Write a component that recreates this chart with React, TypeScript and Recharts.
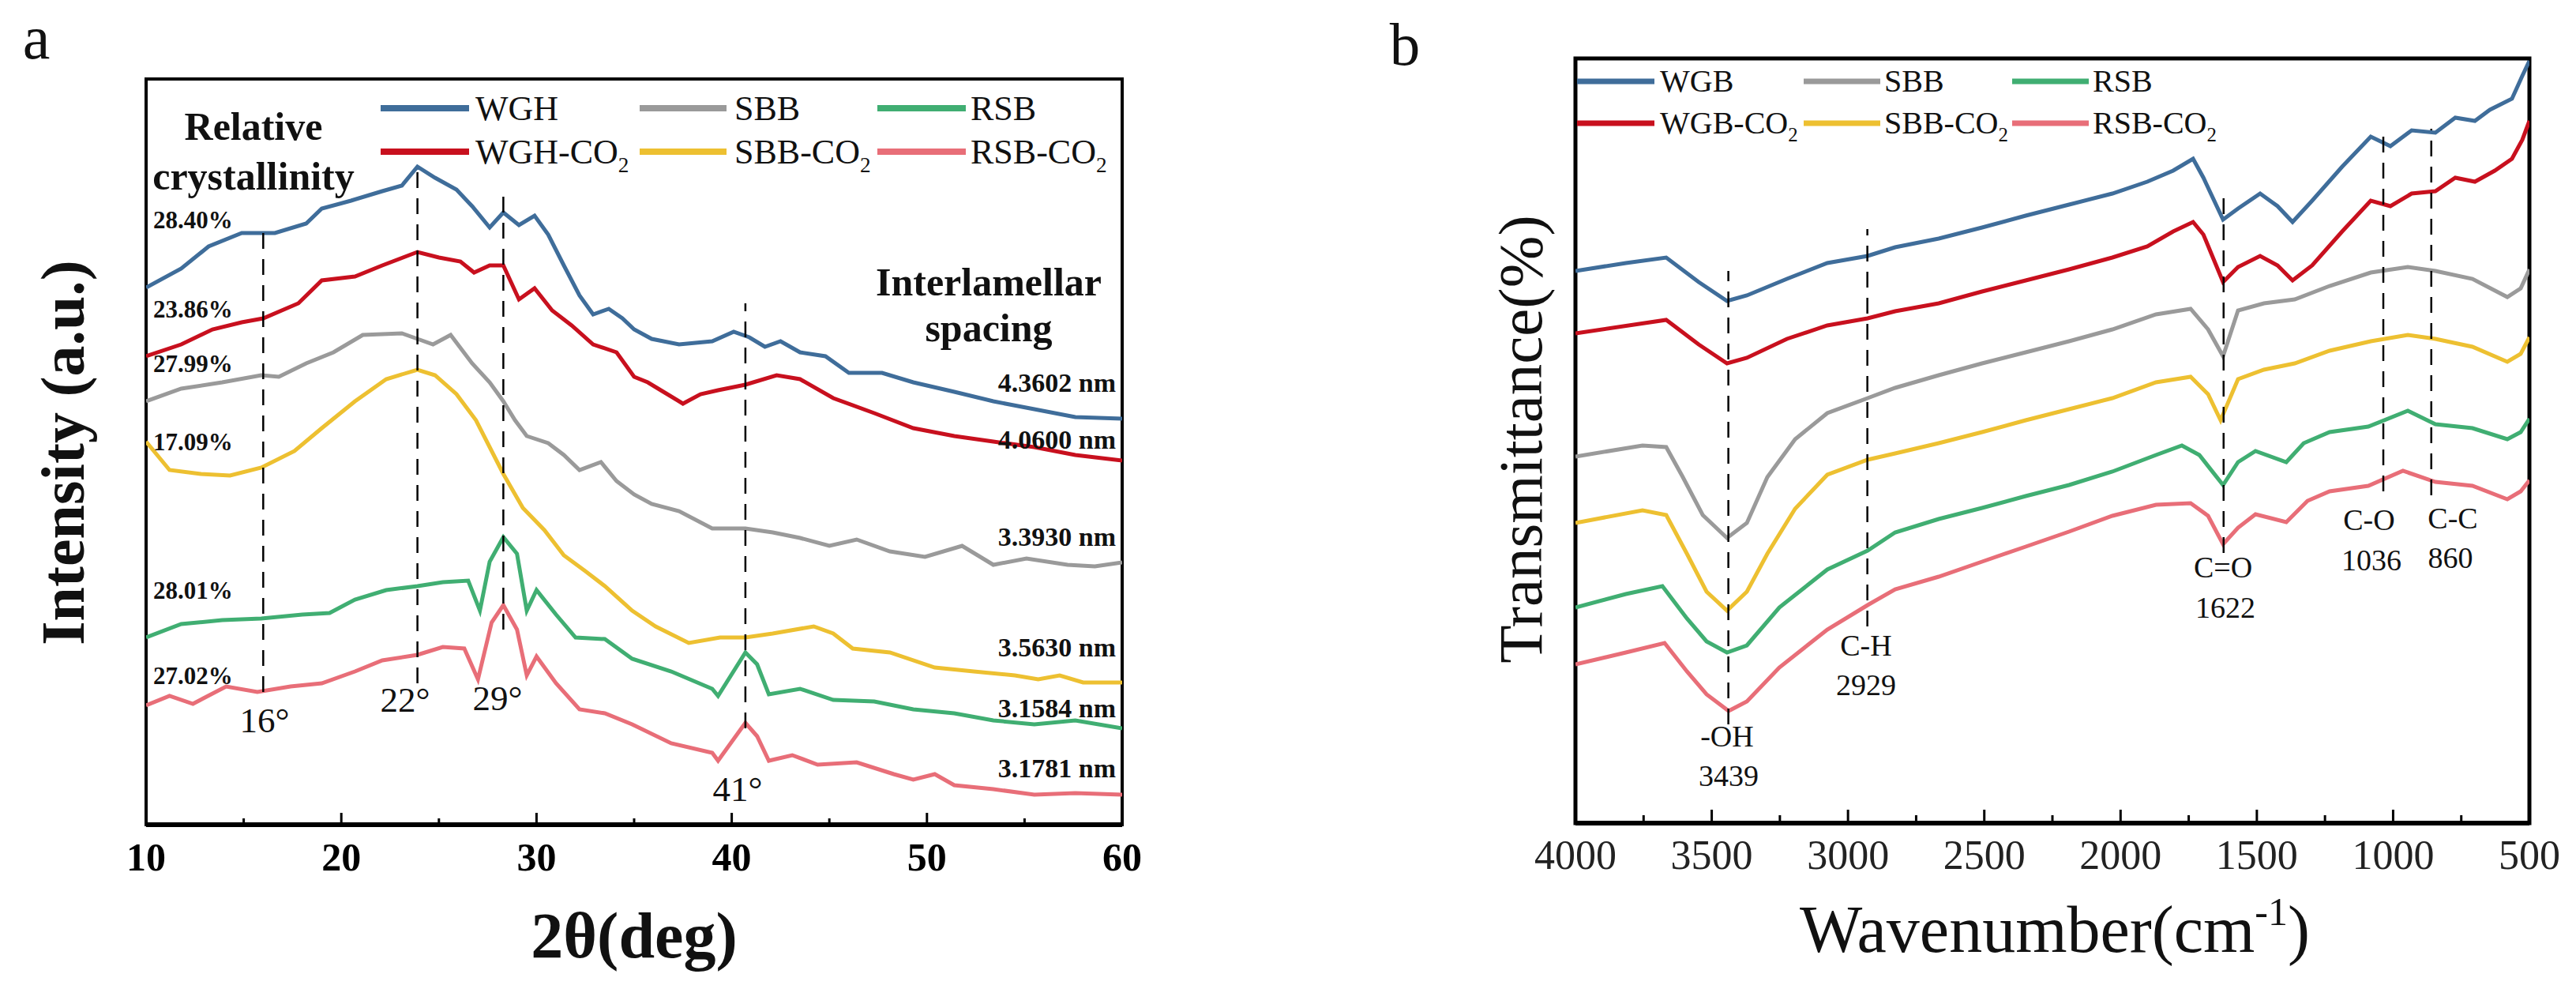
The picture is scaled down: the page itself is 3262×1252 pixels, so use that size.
import React from 'react';
import { LineChart, Line, XAxis, YAxis, ReferenceLine, ReferenceArea } from 'recharts';

const SERIF = '"Liberation Serif", "Times New Roman", serif';

// ---------- Panel a : XRD ----------
const XRD_TICKS = [10, 15, 20, 25, 30, 35, 40, 45, 50, 55, 60];

const WGH = [[10,680],[11.8,704],[13.2,732],[14.9,749],[16.6,749],[18.2,761],[19,780],[20.5,790],[22.1,802],[23.1,809],[23.9,833],[24.8,819],[25.9,804],[26.7,783],[27.6,756],[28.3,775],[29.1,759],[29.9,771],[30.6,747],[31.4,708],[32.2,670],[32.9,646],[33.7,653],[34.4,641],[35,627],[35.9,615],[37.3,608],[39,612],[40.1,624],[40.9,617],[41.7,605],[42.5,612],[43.5,598],[44.8,593],[46,572],[47.7,572],[49.3,560],[51.4,548],[53.4,536],[55.5,526],[57.6,516],[60,514]];
const WGH_CO2 = [[10,593],[11.8,608],[13.4,627],[14.9,636],[16,641],[17.8,660],[19,689],[20.7,694],[22.1,708],[23.9,725],[25,718],[26.1,713],[26.8,699],[27.6,708],[28.3,708],[29.1,665],[29.9,679],[30.8,651],[31.8,632],[32.9,608],[34.1,598],[35,567],[35.7,560],[36.5,548],[37.5,533],[38.4,545],[39.3,550],[40.7,557],[42.3,569],[43.5,564],[45.2,540],[47.3,521],[49.3,502],[51.4,492],[53.4,485],[55.5,478],[57.6,468],[60,461]];
const SBB = [[10,536],[11.8,552],[13.9,560],[15.9,569],[16.8,567],[18.2,584],[19.6,598],[21.1,620],[23.1,622],[23.9,615],[24.7,608],[25.6,620],[26.7,584],[27.6,560],[28.3,536],[28.9,512],[29.5,492],[30.6,483],[31.4,468],[32.2,449],[33.3,459],[34.1,435],[35,418],[35.9,406],[37.3,397],[39,375],[40.7,375],[42.1,370],[43.5,363],[45,353],[46.4,361],[48.1,346],[49.9,339],[51.8,353],[53.4,329],[55.1,337],[57.2,329],[58.6,327],[60,332]];
const SBB_CO2 = [[10,485],[11.2,449],[12.8,444],[14.3,442],[15.9,452],[17.6,473],[19,502],[20.7,536],[22.3,564],[23.9,576],[24.8,569],[25.9,545],[26.9,512],[27.6,478],[28.3,444],[29.3,401],[30.4,373],[31.4,341],[32.5,321],[33.5,302],[34.9,271],[36.1,251],[37.8,230],[39.4,237],[40.7,237],[42.1,242],[44.2,251],[45.2,242],[46.2,223],[48.1,218],[50.4,199],[52.4,194],[54.5,189],[55.7,184],[56.8,189],[58,180],[60,180]];
const RSB = [[10,237],[11.8,254],[13.9,259],[15.9,261],[18,266],[19.4,268],[20.7,285],[22.3,297],[23.9,302],[25.2,307],[26.5,309],[27.1,271],[27.6,333],[28.3,364],[29,343],[29.5,271],[30,297],[31,266],[32,237],[33.5,235],[34.9,210],[36.9,194],[39,172],[39.3,163],[40.7,218],[41.3,203],[41.9,165],[43.5,172],[45.2,158],[47.3,156],[49.3,146],[51.4,141],[53.4,132],[55.5,127],[57.6,132],[60,122]];
const RSB_CO2 = [[10,151],[11.2,163],[12.4,153],[14.1,175],[15.7,168],[17.4,175],[19,179],[20.7,194],[22.1,208],[23.9,215],[25.2,225],[26.3,223],[27,184],[27.7,256],[28.3,278],[29,247],[29.5,189],[30,213],[31,179],[32.2,146],[33.5,141],[34.9,127],[36.9,103],[39,91],[39.3,81],[40.7,129],[41.3,112],[41.9,81],[43.1,88],[44.4,76],[46.4,79],[48.3,64],[49.3,57],[50.4,64],[51.4,50],[53.4,45],[55.5,38],[57.6,40],[60,38]];

const XRD_NAMES = ['WGH', 'SBB', 'RSB', 'WGH-CO', 'SBB-CO', 'RSB-CO'];
const XRD_PEAKS = [16, 23.9, 28.3, 40.7];
const XRD_PEAK_SPAN = [[168, 759], [179, 838], [247, 802], [122, 660]];
const XRD_PEAK_LABELS = ['16°', '22°', '29°', '41°'];
const CRYSTALLINITY = ['28.40%', '23.86%', '27.99%', '17.09%', '28.01%', '27.02%'];
const SPACING = ['4.3602 nm', '4.0600 nm', '3.3930 nm', '3.5630 nm', '3.1584 nm', '3.1781 nm'];

// ---------- Panel b : FTIR ----------
const FTIR_TICKS = [4000, 3750, 3500, 3250, 3000, 2750, 2500, 2250, 2000, 1750, 1500, 1250, 1000, 750, 500];

const WGB = [[4000,699],[3815,709],[3667,716],[3548,685],[3444,661],[3371,668],[3224,689],[3076,709],[2928,718],[2827,729],[2667,740],[2508,754],[2348,769],[2189,783],[2030,797],[1902,812],[1807,826],[1734,841],[1696,817],[1624,764],[1569,778],[1488,797],[1424,781],[1369,761],[1297,788],[1187,831],[1082,869],[1010,857],[932,877],[845,874],[772,893],[700,889],[645,903],[564,917],[526,946],[500,965]];
const WGB_CO2 = [[4000,620],[3667,637],[3548,606],[3444,582],[3371,589],[3224,613],[3076,630],[2928,639],[2827,648],[2667,658],[2508,673],[2348,687],[2189,701],[2030,716],[1902,730],[1807,749],[1734,761],[1696,745],[1624,685],[1569,704],[1488,718],[1424,706],[1369,687],[1297,706],[1187,749],[1082,788],[1010,781],[932,797],[845,800],[772,817],[700,812],[627,826],[564,841],[526,865],[500,889]];
const SBB_B = [[4000,464],[3754,478],[3667,476],[3606,438],[3533,390],[3444,361],[3371,380],[3296,438],[3194,486],[3076,519],[2928,538],[2827,551],[2667,567],[2508,582],[2348,596],[2189,610],[2030,625],[1870,644],[1743,651],[1679,625],[1624,591],[1569,649],[1474,658],[1361,663],[1233,680],[1082,697],[946,704],[845,699],[709,689],[581,666],[532,677],[500,701]];
const SBB_B_CO2 = [[4000,380],[3754,396],[3667,390],[3591,341],[3519,293],[3444,269],[3371,293],[3296,341],[3194,398],[3076,441],[2928,460],[2827,468],[2667,481],[2508,495],[2348,510],[2189,524],[2030,538],[1870,558],[1743,565],[1679,543],[1633,510],[1569,562],[1474,574],[1361,582],[1233,598],[1082,610],[946,618],[845,613],[709,603],[581,584],[532,594],[500,615]];
const RSB_B = [[4000,273],[3815,290],[3681,300],[3591,259],[3519,230],[3444,216],[3371,225],[3252,273],[3076,321],[2928,345],[2827,368],[2667,385],[2508,399],[2348,414],[2189,428],[2030,445],[1870,466],[1775,478],[1711,466],[1624,428],[1569,457],[1505,471],[1392,457],[1328,481],[1233,495],[1091,502],[946,522],[845,505],[709,500],[581,486],[532,495],[500,512]];
const RSB_B_CO2 = [[4000,201],[3815,216],[3673,228],[3591,192],[3519,163],[3438,142],[3371,154],[3252,197],[3076,245],[2928,276],[2827,296],[2667,312],[2508,331],[2348,350],[2189,369],[2030,389],[1870,403],[1743,405],[1679,389],[1624,353],[1569,374],[1505,391],[1392,381],[1314,408],[1233,420],[1091,427],[964,446],[845,432],[709,427],[581,410],[532,420],[500,434]];

const FTIR_NAMES = ['WGB', 'SBB', 'RSB', 'WGB-CO', 'SBB-CO', 'RSB-CO'];
const FTIR_PEAKS = [3439, 2929, 1622, 1036, 860];
const FTIR_PEAK_SPAN = [[125, 699], [249, 752], [342, 800], [420, 869], [415, 879]];
const FTIR_GROUPS = ['-OH', 'C-H', 'C=O', 'C-O', 'C-C'];

// ---------- styling ----------
const COLORS = ['#3F6D9A', '#9A9A9A', '#40AE72', '#C8101E', '#EDC031', '#E86E78'];
const XRD_DATA = [WGH, SBB, RSB, WGH_CO2, SBB_CO2, RSB_CO2];
const FTIR_DATA = [WGB, SBB_B, RSB_B, WGB_CO2, SBB_B_CO2, RSB_B_CO2];
const DRAW_ORDER = [5, 2, 4, 1, 3, 0];

const toPts = (arr: number[][]) => arr.map(([x, y]) => ({ x, y }));

const tickA = (props: any) => {
  const { x, y, payload } = props;
  const v = payload.value;
  const major = v % 10 === 0;
  return (
    <g>
      <line x1={x} x2={x} y1={y} y2={y - (major ? 15 : 8)} stroke="#000" strokeWidth={3} />
      {major && (
        <text x={x} y={y + 58} textAnchor="middle" fontFamily={SERIF} fontWeight="bold" fontSize={50} fill="#000">
          {v}
        </text>
      )}
    </g>
  );
};

const tickB = (props: any) => {
  const { x, y, payload } = props;
  const v = payload.value;
  const major = v % 500 === 0;
  return (
    <g>
      <line x1={x} x2={x} y1={y} y2={y - (major ? 17 : 10)} stroke="#000" strokeWidth={3} />
      {major && (
        <text x={x} y={y + 58} textAnchor="middle" fontFamily={SERIF} fontSize={52} fill="#222">
          {v}
        </text>
      )}
    </g>
  );
};

const T = ({ x, y, size, bold, anchor, children, fill }: any) => (
  <text x={x} y={y} fontSize={size} fontFamily={SERIF} fontWeight={bold ? 'bold' : 'normal'} textAnchor={anchor || 'middle'} fill={fill || '#111'}>
    {children}
  </text>
);

const LegendItem = ({ x1, x2, tx, y, color, label, co2, size, lw }: any) => (
  <g>
    <line x1={x1} x2={x2} y1={y} y2={y} stroke={color} strokeWidth={lw} />
    <text x={tx} y={y + size * 0.33} fontSize={size} fontFamily={SERIF} fill="#111">
      {label}
      {co2 && <tspan fontSize={size * 0.62} dy={size * 0.25}>2</tspan>}
    </text>
  </g>
);

export default function App() {
  const legA = [
    { x1: 482, x2: 594, tx: 602 },
    { x1: 810, x2: 920, tx: 930 },
    { x1: 1111, x2: 1223, tx: 1229 },
  ];
  const legB = [
    { x1: 1997, x2: 2095, tx: 2102 },
    { x1: 2284, x2: 2381, tx: 2386 },
    { x1: 2548, x2: 2645, tx: 2650 },
  ];
  const pctY = [289, 402, 471, 570, 758, 866];
  const spY = [496, 568, 691, 831, 908, 984];
  const angPos = [[335, 927], [513, 901], [630, 899], [934, 1014]];
  const grpPos = [[2187, 945], [2363, 830], [2815, 731], [3000, 671], [3106, 669]];
  const numPos = [[2189, 995], [2363, 880], [2818, 782], [3003, 722], [3103, 719]];

  return (
    <div style={{ position: 'absolute', left: 0, top: 0, width: 3262, height: 1252, background: '#fff' }}>
      <div style={{ position: 'absolute', left: 0, top: 0 }}>
        <LineChart width={1631} height={1252} margin={{ top: 100, right: 210, bottom: 207, left: 185 }}>
          <XAxis type="number" dataKey="x" domain={[10, 60]} ticks={XRD_TICKS} interval={0} allowDataOverflow
            height={1} tickSize={0} tickMargin={0} tickLine={false} axisLine={{ stroke: '#000', strokeWidth: 6 }} tick={tickA} />
          <YAxis type="number" domain={[0, 944]} hide allowDataOverflow />
          <ReferenceArea x1={10} x2={60} y1={0} y2={944} fill="none" stroke="#000" strokeWidth={4} ifOverflow="visible" />
          {DRAW_ORDER.map((i) => (
            <Line key={XRD_NAMES[i]} data={toPts(XRD_DATA[i])} dataKey="y" stroke={COLORS[i]} strokeWidth={5}
              dot={false} isAnimationActive={false} type="linear" />
          ))}
          {XRD_PEAKS.map((p, i) => (
            <ReferenceLine key={'pa' + i} segment={[{ x: p, y: XRD_PEAK_SPAN[i][0] }, { x: p, y: XRD_PEAK_SPAN[i][1] }]}
              stroke="#000" strokeWidth={2.5} strokeDasharray="20 13" ifOverflow="visible" />
          ))}
        </LineChart>
      </div>
      <div style={{ position: 'absolute', left: 1631, top: 0 }}>
        <LineChart width={1631} height={1252} margin={{ top: 74, right: 59, bottom: 209, left: 364 }}>
          <XAxis type="number" dataKey="x" domain={[500, 4000]} reversed ticks={FTIR_TICKS} interval={0} allowDataOverflow
            height={1} tickSize={0} tickMargin={0} tickLine={false} axisLine={{ stroke: '#000', strokeWidth: 6 }} tick={tickB} />
          <YAxis type="number" domain={[0, 968]} hide allowDataOverflow />
          <ReferenceArea x1={500} x2={4000} y1={0} y2={968} fill="none" stroke="#000" strokeWidth={5} ifOverflow="visible" />
          {DRAW_ORDER.map((i) => (
            <Line key={FTIR_NAMES[i]} data={toPts(FTIR_DATA[i])} dataKey="y" stroke={COLORS[i]} strokeWidth={5}
              dot={false} isAnimationActive={false} type="linear" />
          ))}
          {FTIR_PEAKS.map((p, i) => (
            <ReferenceLine key={'pb' + i} segment={[{ x: p, y: FTIR_PEAK_SPAN[i][0] }, { x: p, y: FTIR_PEAK_SPAN[i][1] }]}
              stroke="#000" strokeWidth={2.5} strokeDasharray="20 13" ifOverflow="visible" />
          ))}
        </LineChart>
      </div>
      <svg width={3262} height={1252} style={{ position: 'absolute', left: 0, top: 0, pointerEvents: 'none' }}>
        {/* panel letters */}
        <T x={46} y={74} size={78}>a</T>
        <T x={1779} y={82} size={77}>b</T>

        {/* panel a titles */}
        <text transform="translate(79,573) rotate(-90)" textAnchor="middle" dominantBaseline="central"
          fontFamily={SERIF} fontWeight="bold" fontSize={78} fill="#111">Intensity (a.u.)</text>
        <T x={803} y={1212} size={82} bold>2θ(deg)</T>

        {/* panel a legend */}
        {XRD_NAMES.map((n, i) => (
          <LegendItem key={n} {...legA[i % 3]} y={i < 3 ? 137 : 192} color={COLORS[i]} label={n} co2={i >= 3} size={44} lw={8} />
        ))}

        {/* panel a annotations */}
        <T x={321} y={177} size={50} bold>Relative</T>
        <T x={321} y={240} size={50} bold>crystallinity</T>
        {CRYSTALLINITY.map((c, i) => (
          <T key={c + i} x={194} y={pctY[i]} size={31} bold anchor="start">{c}</T>
        ))}
        <T x={1252} y={374} size={50} bold>Interlamellar</T>
        <T x={1252} y={432} size={50} bold>spacing</T>
        {SPACING.map((s, i) => (
          <T key={s + i} x={1413} y={spY[i]} size={34} bold anchor="end">{s}</T>
        ))}
        {XRD_PEAK_LABELS.map((l, i) => (
          <T key={l} x={angPos[i][0]} y={angPos[i][1]} size={45}>{l}</T>
        ))}

        {/* panel b titles */}
        <text transform="translate(1925,556) rotate(-90)" textAnchor="middle" dominantBaseline="central"
          fontFamily={SERIF} fontSize={79} fill="#111">Transmittance(%)</text>
        <text x={2602} y={1205} textAnchor="middle" fontFamily={SERIF} fontSize={84} fill="#111">
          Wavenumber(cm<tspan fontSize={50} dy={-34}>-1</tspan><tspan dy={34}>)</tspan>
        </text>

        {/* panel b legend */}
        {FTIR_NAMES.map((n, i) => (
          <LegendItem key={n} {...legB[i % 3]} y={i < 3 ? 103 : 156} color={COLORS[i]} label={n} co2={i >= 3} size={40} lw={7} />
        ))}

        {/* panel b annotations */}
        {FTIR_GROUPS.map((g, i) => (
          <T key={g} x={grpPos[i][0]} y={grpPos[i][1]} size={38}>{g}</T>
        ))}
        {FTIR_PEAKS.map((p, i) => (
          <T key={'n' + p} x={numPos[i][0]} y={numPos[i][1]} size={38}>{String(p)}</T>
        ))}
      </svg>
    </div>
  );
}
